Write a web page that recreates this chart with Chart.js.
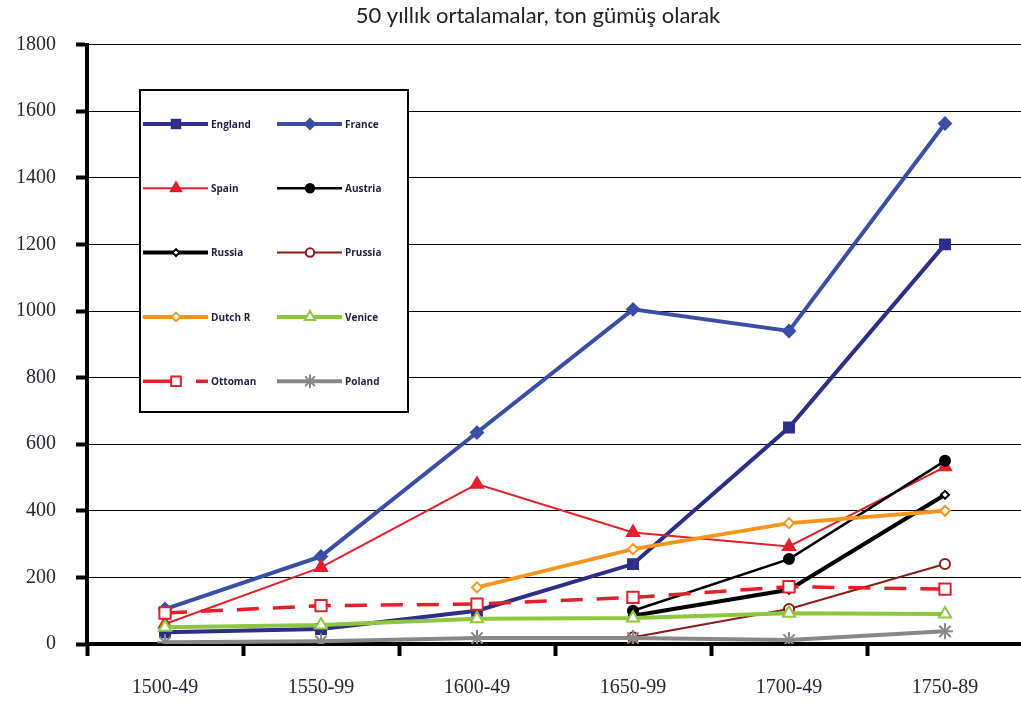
<!DOCTYPE html>
<html>
<head>
<meta charset="utf-8">
<script src="https://cdn.jsdelivr.net/npm/chart.js@4"></script>
<style>
  html, body { margin: 0; padding: 0; background: #fff; overflow: hidden; }
  #wrap { width: 1021px; height: 705px; overflow: hidden; }
</style>
</head>
<body>
<div id="wrap"><canvas id="myChart" width="1033" height="705"></canvas></div>
<script>
const periods = ['1500-49', '1550-99', '1600-49', '1650-99', '1700-49', '1750-89'];
const england = [35, 45, 100, 240, 650, 1200];
const france = [105, 263, 635, 1005, 940, 1563];
const spain = [60, 230, 480, 335, 293, 532];
const austria = [null, null, null, 100, 255, 550];
const russia = [null, null, null, 85, 163, 448];
const prussia = [null, null, null, 20, 105, 240];
const dutch = [null, null, 170, 285, 363, 400];
const venice = [50, 57, 76, 78, 92, 90];
const ottoman = [93, 115, 120, 140, 172, 165];
const poland = [5, 8, 18, 18, 12, 38];
const yTicks = [0, 200, 400, 600, 800, 1000, 1200, 1400, 1600, 1800];
const titleText = '50 yıllık ortalamalar, ton gümüş olarak';

// name, data, colour, width, marker, radius, marker fill, dash
const series = [
    ['England', england, '#2b2f87', 4, 'rect', 7, '#2b2f87', []],
    ['France', france, '#3a4ea6', 4, 'rectRot', 6, '#3a4ea6', []],
    ['Spain', spain, '#e3202a', 2, 'triangle', 7, '#e3202a', []],
    ['Austria', austria, '#000000', 2.5, 'circle', 5, '#000000', []],
    ['Russia', russia, '#000000', 4, 'rectRot', 4, '#ffffff', []],
    ['Prussia', prussia, '#8b1a1a', 2, 'circle', 5, '#ffffff', []],
    ['Dutch R', dutch, '#f7941d', 4, 'rectRot', 5, '#ffffff', []],
    ['Venice', venice, '#8dc63f', 4, 'triangle', 7, '#ffffff', []],
    ['Ottoman', ottoman, '#e3202a', 3.5, 'rect', 8, '#ffffff', [22, 14]],
    ['Poland', poland, '#888888', 4, 'star', 8, '#888888', []]
];

const datasets = series.map((s, i) => ({
    label: s[0],
    data: s[1],
    borderColor: s[2],
    backgroundColor: s[6],
    borderWidth: s[3],
    borderDash: s[7],
    pointStyle: s[4],
    pointRadius: s[5],
    pointBorderColor: s[2],
    pointBackgroundColor: s[6],
    pointBorderWidth: 2,
    tension: 0,
    order: 10 - i
}));

// legend box drawn inside the plot + title
const boxLegend = {
    id: 'boxLegend',
    afterDatasetsDraw(chart) {
        const ctx = chart.ctx;
        const x0 = 140, y0 = 90, w = 268, h = 322;
        ctx.save();
        ctx.fillStyle = '#fff';
        ctx.fillRect(x0, y0, w, h);
        ctx.strokeStyle = '#000';
        ctx.lineWidth = 2;
        ctx.strokeRect(x0, y0, w, h);
        series.forEach((s, i) => {
            const col = i % 2, row = Math.floor(i / 2);
            const lx = col === 0 ? 143 : 277;
            const ly = 124 + row * 64.3;
            ctx.strokeStyle = s[2];
            ctx.lineWidth = s[3];
            ctx.setLineDash([]);
            ctx.beginPath();
            if (s[7].length) {
                ctx.moveTo(lx, ly); ctx.lineTo(lx + 34, ly);
                ctx.moveTo(lx + 53, ly); ctx.lineTo(lx + 65, ly);
            } else {
                ctx.moveTo(lx, ly); ctx.lineTo(lx + 65, ly);
            }
            ctx.stroke();
            ctx.fillStyle = s[6];
            ctx.strokeStyle = s[2];
            ctx.lineWidth = 2;
            Chart.helpers.drawPoint(ctx, {pointStyle: s[4], radius: s[5] * 0.85, rotation: 0, borderWidth: 2}, lx + 33, ly);
            ctx.fillStyle = '#1f1f3f';
            ctx.font = 'bold 10px "Open Sans"';
            ctx.textBaseline = 'middle';
            ctx.textAlign = 'left';
            ctx.fillText(s[0], lx + 68, ly + 1);
        });
        // title
        ctx.fillStyle = '#222';
        ctx.font = '22px Lato';
        ctx.textAlign = 'center';
        ctx.textBaseline = 'middle';
        ctx.fillText(titleText, 538, 16);
        ctx.restore();
    }
};

const ctx = document.getElementById('myChart').getContext('2d');
const myChart = new Chart(ctx, {
    type: 'line',
    data: { labels: periods, datasets: datasets },
    plugins: [boxLegend],
    options: {
        responsive: false,
        animation: false,
        layout: { padding: { left: 0, right: 0, top: 44.6, bottom: 0 } },
        plugins: {
            legend: { display: false },
            tooltip: { enabled: false },
            title: { display: false }
        },
        scales: {
            x: {
                offset: true,
                grid: { offset: true, drawOnChartArea: false, color: '#000', tickLength: 12, tickWidth: 4 },
                border: { color: '#000', width: 4 },
                ticks: { color: '#2b2533', padding: 20, font: { family: 'Liberation Serif', size: 20 } },
                afterFit: (scale) => { scale.height = 61; }
            },
            y: {
                min: 0,
                max: 1800,
                afterBuildTicks: (scale) => { scale.ticks = yTicks.map(v => ({ value: v })); },
                grid: { color: '#000', lineWidth: 1, tickLength: 11, tickWidth: 4 },
                border: { color: '#000', width: 4 },
                ticks: {
                    color: '#2b2533', padding: 20,
                    font: { family: 'Liberation Serif', size: 20 },
                    callback: (v) => String(v)
                },
                afterFit: (scale) => { scale.width = 87; }
            }
        }
    }
});
</script>
</body>
</html>
